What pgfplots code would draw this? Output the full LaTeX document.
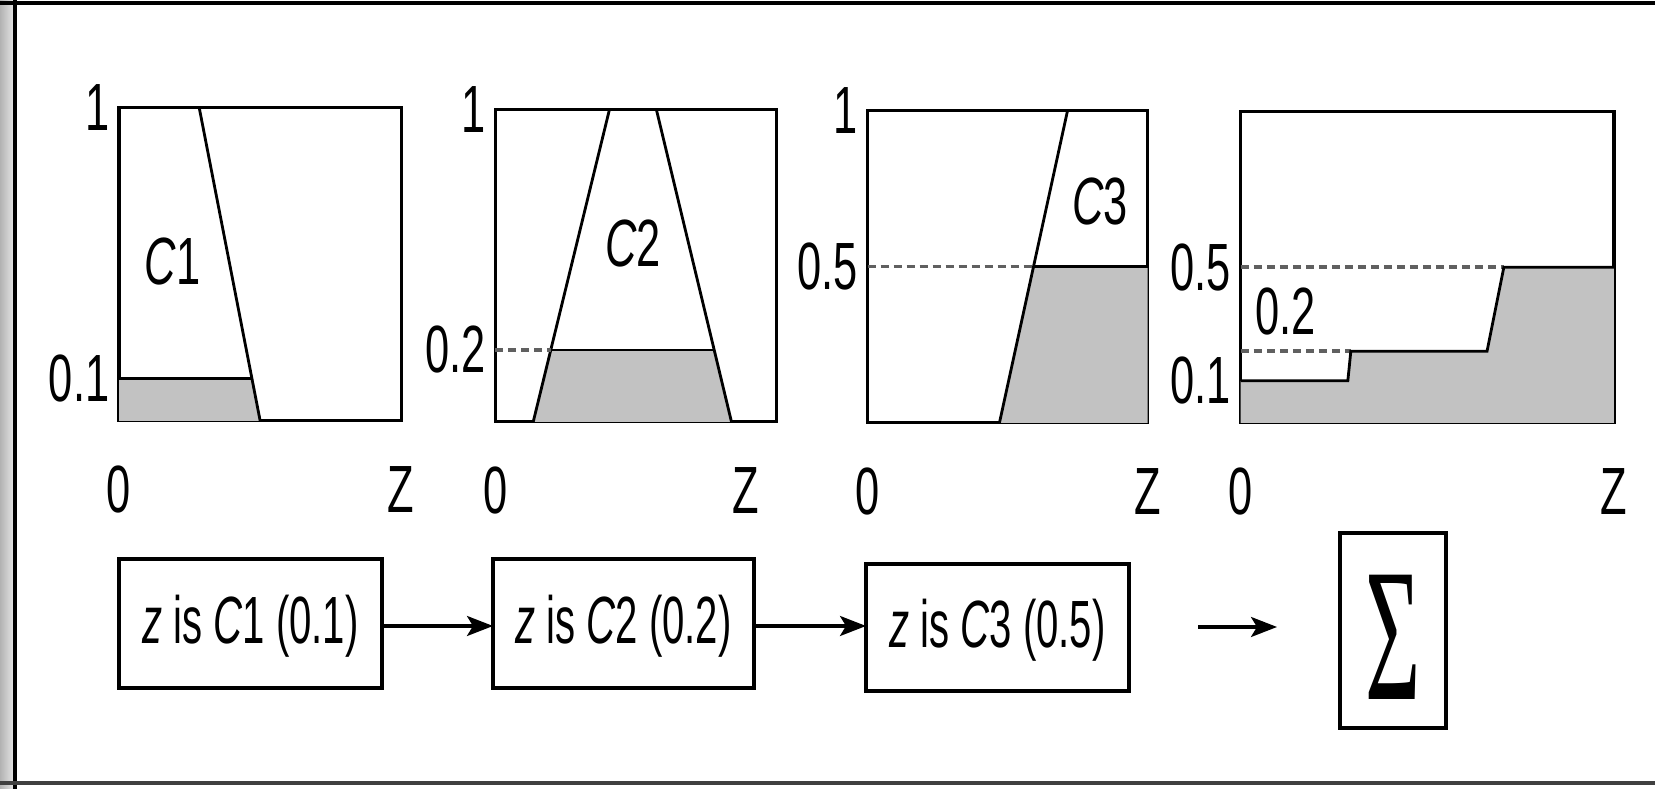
\documentclass[border=0pt]{standalone}
\usepackage{pgfplots}
\pgfplotsset{compat=1.18}
\usepackage{fontspec}
\setmainfont{Liberation Sans}
\newfontfamily\serif{Liberation Serif}
\usepackage{graphicx}
\usetikzlibrary{arrows.meta}

% the scan uses a narrow grotesque: squeeze Liberation Sans horizontally
\newcommand\N[1]{\scalebox{0.65}[1]{#1}}
\newcommand\B[1]{\scalebox{0.6}[1]{#1}}
\newcommand\fs{\fontsize{19}{22}\selectfont}
\colorlet{shade}{black!24}

\pgfplotsset{
  panel/.style={
    scale only axis,
    xmin=0, xmax=10, ymin=0, ymax=1,
    axis line style={line width=0.9pt},
    tick style={draw=none},
    xticklabel style={font=\fs, anchor=center, yshift=-0.69cm, inner sep=0pt},
    yticklabel style={font=\fs, anchor=east, inner sep=0pt, xshift=-0.09cm},
    clip=false,
  },
  lvl/.style={gray!75!black, line width=1pt, dash pattern=on 0.08cm off 0.05cm},
  edge/.style={black, line width=0.8pt},
  area/.style={fill=shade, draw=none},
}

\begin{document}
\begin{tikzpicture}[x=0.01cm, y=0.01cm]
\useasboundingbox (0,0) rectangle (1655,789);

% page edges of the scan
\shade[left color=gray!60, right color=gray!20] (0,0) rectangle (14,789);
\draw[line width=1pt] (15,0) -- (15,789);
\draw[line width=1.4pt] (0,786) -- (1655,786);
\draw[line width=1.4pt, black!75] (0,6) -- (1655,6);

% ---- C1 ----
\begin{axis}[panel, at={(1.19cm,3.68cm)}, anchor=south west,
    width=2.82cm, height=3.13cm,
    xtick={0,10}, xticklabels={\N{0},\N{Z}},
    ytick={0.135,1}, yticklabels={\N{0.1},\N{1}}]
\addplot[area] coordinates {(0,0) (0,0.135) (4.72,0.135) (5.0,0)} \closedcycle;
\addplot[edge] coordinates {(0,1) (2.84,1) (5.0,0)};
\addplot[edge] coordinates {(0,0.135) (4.72,0.135)};
\node[font=\fs] at (axis cs:1.9,0.51) {\N{\textit{C}1}};
\end{axis}

% ---- C2 ----
\begin{axis}[panel, at={(4.95cm,3.67cm)}, anchor=south west,
    width=2.81cm, height=3.12cm,
    xtick={0,8.9}, xticklabels={\N{0},\N{Z}},
    ytick={0.23,1}, yticklabels={\N{0.2},\N{1}}]
\addplot[area] coordinates {(1.35,0) (1.97,0.23) (7.79,0.23) (8.4,0)} \closedcycle;
\addplot[edge] coordinates {(1.35,0) (4.06,1) (5.73,1) (8.4,0)};
\addplot[lvl] coordinates {(0,0.23) (1.97,0.23)};
\addplot[edge] coordinates {(1.97,0.23) (7.79,0.23)};
\node[font=\fs] at (axis cs:4.9,0.57) {\N{\textit{C}2}};
\end{axis}

% ---- C3 ----
\begin{axis}[panel, at={(8.67cm,3.66cm)}, anchor=south west,
    width=2.80cm, height=3.12cm,
    xtick={0,10}, xticklabels={\N{0},\N{Z}},
    ytick={0.5,1}, yticklabels={\N{0.5},\N{1}}]
\addplot[area] coordinates {(4.71,0) (5.93,0.5) (10,0.5) (10,0)} \closedcycle;
\addplot[edge] coordinates {(4.71,0) (7.14,1)};
\addplot[lvl] coordinates {(0,0.5) (5.93,0.5)};
\addplot[edge] coordinates {(5.93,0.5) (10,0.5)};
\node[font=\fs] at (axis cs:8.3,0.71) {\N{\textit{C}3}};
\end{axis}

% ---- aggregated ----
\begin{axis}[panel, at={(12.40cm,3.66cm)}, anchor=south west,
    width=3.73cm, height=3.11cm,
    xtick={0,10}, xticklabels={\N{0},\N{Z}},
    ytick={0.135,0.5}, yticklabels={\N{0.1},\N{0.5}}]
\addplot[area] coordinates {(0,0) (0,0.135) (2.87,0.135) (2.95,0.23) (6.6,0.23) (7.05,0.5) (10,0.5) (10,0)} \closedcycle;
\addplot[lvl] coordinates {(0,0.5) (7.05,0.5)};
\addplot[lvl] coordinates {(0,0.23) (2.95,0.23)};
\addplot[edge] coordinates {(0,0.135) (2.87,0.135) (2.95,0.23) (6.6,0.23) (7.05,0.5) (10,0.5)};
\node[font=\fs] at (axis cs:1.2,0.357) {\N{0.2}};
\end{axis}

% ---- rule chain ----
\begin{scope}[line width=0.9pt, font=\fs]
\draw (119,101) rectangle (382,230);
\node at (250.5,163) {\B{\textit{z} is \textit{C}1 (0.1)}};
\draw (493,101) rectangle (754,230);
\node at (623.5,163) {\B{\textit{z} is \textit{C}2 (0.2)}};
\draw (866,98) rectangle (1129,225);
\node at (997.5,159) {\B{\textit{z} is \textit{C}3 (0.5)}};
\draw (1340,61) rectangle (1446,256);
\node at (1393,152) {\scalebox{0.5}[1]{\serif\fontsize{54}{60}\selectfont Σ}};
\end{scope}
\begin{scope}[line width=0.9pt, -{Stealth[length=0.26cm, width=0.2cm, inset=0.06cm]}]
\draw (382,163) -- (493,163);
\draw (754,163) -- (866,163);
\draw (1198,162) -- (1277,162);
\end{scope}
\end{tikzpicture}
\end{document}
